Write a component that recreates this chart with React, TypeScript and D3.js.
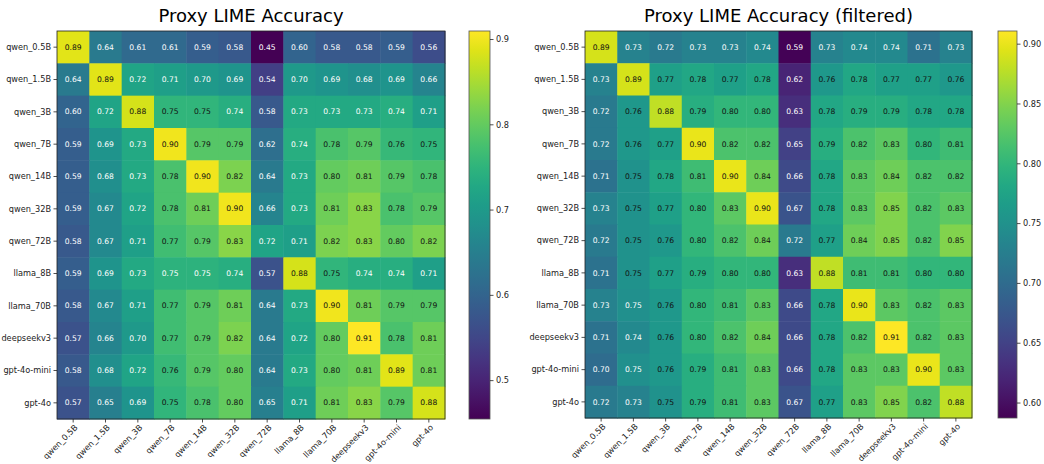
import * as d3 from "d3";

const models = [
  "qwen_0.5B", "qwen_1.5B", "qwen_3B", "qwen_7B", "qwen_14B", "qwen_32B",
  "qwen_72B", "llama_8B", "llama_70B", "deepseekv3", "gpt-4o-mini", "gpt-4o",
];

// rows = explained model, cols = proxy model
const accuracy = [
  [0.89, 0.64, 0.61, 0.61, 0.59, 0.58, 0.45, 0.60, 0.58, 0.58, 0.59, 0.56],
  [0.64, 0.89, 0.72, 0.71, 0.70, 0.69, 0.54, 0.70, 0.69, 0.68, 0.69, 0.66],
  [0.60, 0.72, 0.88, 0.752, 0.752, 0.74, 0.58, 0.73, 0.73, 0.73, 0.74, 0.71],
  [0.59, 0.69, 0.73, 0.90, 0.79, 0.79, 0.62, 0.74, 0.78, 0.79, 0.76, 0.752],
  [0.59, 0.68, 0.73, 0.78, 0.90, 0.82, 0.64, 0.73, 0.80, 0.81, 0.79, 0.78],
  [0.59, 0.67, 0.72, 0.78, 0.81, 0.90, 0.66, 0.73, 0.81, 0.83, 0.78, 0.79],
  [0.58, 0.67, 0.71, 0.77, 0.79, 0.83, 0.72, 0.71, 0.82, 0.83, 0.80, 0.82],
  [0.59, 0.69, 0.73, 0.748, 0.748, 0.74, 0.57, 0.88, 0.752, 0.74, 0.74, 0.71],
  [0.58, 0.67, 0.71, 0.77, 0.79, 0.81, 0.64, 0.73, 0.90, 0.81, 0.79, 0.79],
  [0.57, 0.66, 0.70, 0.77, 0.79, 0.82, 0.64, 0.72, 0.80, 0.91, 0.78, 0.81],
  [0.58, 0.68, 0.72, 0.76, 0.79, 0.80, 0.64, 0.73, 0.80, 0.81, 0.89, 0.81],
  [0.57, 0.65, 0.69, 0.752, 0.78, 0.80, 0.65, 0.71, 0.81, 0.83, 0.79, 0.88],
];

const accuracyFiltered = [
  [0.89, 0.73, 0.72, 0.73, 0.73, 0.74, 0.59, 0.73, 0.74, 0.74, 0.71, 0.73],
  [0.73, 0.89, 0.77, 0.78, 0.77, 0.78, 0.62, 0.76, 0.78, 0.77, 0.77, 0.76],
  [0.72, 0.76, 0.88, 0.79, 0.80, 0.80, 0.63, 0.78, 0.79, 0.79, 0.78, 0.78],
  [0.72, 0.76, 0.77, 0.90, 0.82, 0.82, 0.65, 0.79, 0.82, 0.83, 0.80, 0.81],
  [0.71, 0.752, 0.78, 0.81, 0.90, 0.84, 0.66, 0.78, 0.83, 0.84, 0.82, 0.82],
  [0.73, 0.752, 0.77, 0.80, 0.83, 0.90, 0.67, 0.78, 0.83, 0.85, 0.82, 0.83],
  [0.72, 0.752, 0.76, 0.80, 0.82, 0.84, 0.72, 0.77, 0.84, 0.85, 0.82, 0.85],
  [0.71, 0.752, 0.77, 0.79, 0.80, 0.80, 0.63, 0.88, 0.81, 0.81, 0.80, 0.80],
  [0.73, 0.748, 0.76, 0.80, 0.81, 0.83, 0.66, 0.78, 0.90, 0.83, 0.82, 0.83],
  [0.71, 0.74, 0.76, 0.80, 0.82, 0.84, 0.66, 0.78, 0.82, 0.91, 0.82, 0.83],
  [0.70, 0.748, 0.76, 0.79, 0.81, 0.83, 0.66, 0.78, 0.83, 0.83, 0.90, 0.83],
  [0.72, 0.73, 0.752, 0.79, 0.81, 0.83, 0.67, 0.77, 0.83, 0.85, 0.82, 0.88],
];

const leftDomain = [0.455, 0.91];
const rightDomain = [0.5875, 0.911];
const leftTicks = [0.5, 0.6, 0.7, 0.8, 0.9];
const rightTicks = [0.6, 0.65, 0.7, 0.75, 0.8, 0.85, 0.9];

const FONT = "DejaVu Sans, sans-serif";
const TICK_FS = 8.2;

type HeatProps = {
  title: string;
  data: number[][];
  domain: number[];
  ticks: number[];
  fmt: string;
  x0: number;
  size: number;
  cbX: number;
  cbW: number;
  id: string;
};

function Heatmap({ title, data, domain, ticks, fmt, x0, size, cbX, cbW, id }: HeatProps) {
  const y0 = 31;
  const x = d3.scaleBand<string>().domain(models).range([x0, x0 + size]);
  const y = d3.scaleBand<string>().domain(models).range([y0, y0 + size]);
  const color = d3.scaleSequential(d3.interpolateViridis).domain(domain as [number, number]);
  const cb = d3.scaleLinear().domain(domain).range([y0 + size, y0]);
  const f = d3.format(fmt);
  const stops = d3.range(0, 1.0001, 0.05);

  return (
    <g>
      <text x={x0 + size / 2} y={22} textAnchor="middle" fontSize={18} fontFamily={FONT}>
        {title}
      </text>
      {data.map((row, i) =>
        row.map((v, j) => (
          <g key={`${i}-${j}`}>
            <rect
              x={x(models[j])}
              y={y(models[i])}
              width={x.bandwidth() + 0.5}
              height={y.bandwidth() + 0.5}
              fill={color(v)}
            />
            <text
              x={x(models[j])! + x.bandwidth() / 2}
              y={y(models[i])! + y.bandwidth() / 2}
              dy="0.35em"
              textAnchor="middle"
              fontSize={7.6}
              fontFamily={FONT}
              fill={v >= 0.75 ? "#111" : "#fff"}
            >
              {v.toFixed(2)}
            </text>
          </g>
        ))
      )}
      <rect x={x0} y={y0} width={size} height={size} fill="none" stroke="#222" strokeWidth={0.8} />
      {models.map((m) => (
        <g key={"y" + m}>
          <line x1={x0 - 3.5} x2={x0} y1={y(m)! + y.bandwidth() / 2} y2={y(m)! + y.bandwidth() / 2} stroke="#222" strokeWidth={0.8} />
          <text x={x0 - 6} y={y(m)! + y.bandwidth() / 2} dy="0.35em" textAnchor="end" fontSize={TICK_FS} fontFamily={FONT} fill="#222">
            {m}
          </text>
        </g>
      ))}
      {models.map((m) => {
        const cx = x(m)! + x.bandwidth() / 2;
        const ty = y0 + size + 7;
        return (
          <g key={"x" + m}>
            <line x1={cx} x2={cx} y1={y0 + size} y2={y0 + size + 3.5} stroke="#222" strokeWidth={0.8} />
            <text
              transform={`translate(${cx + 3},${ty}) rotate(-45)`}
              dy="0.35em"
              textAnchor="end"
              fontSize={TICK_FS}
              fontFamily={FONT}
              fill="#222"
            >
              {m}
            </text>
          </g>
        );
      })}
      <defs>
        <linearGradient id={id} x1="0" y1="1" x2="0" y2="0">
          {stops.map((t) => (
            <stop key={t} offset={t} stopColor={d3.interpolateViridis(t)} />
          ))}
        </linearGradient>
      </defs>
      <rect x={cbX} y={y0} width={cbW} height={size} fill={`url(#${id})`} stroke="#555" strokeWidth={0.8} />
      {ticks.map((t) => (
        <g key={"c" + t}>
          <line x1={cbX + cbW} x2={cbX + cbW + 3.5} y1={cb(t)} y2={cb(t)} stroke="#222" strokeWidth={0.8} />
          <text x={cbX + cbW + 6} y={cb(t)} dy="0.35em" fontSize={TICK_FS} fontFamily={FONT} fill="#222">
            {f(t)}
          </text>
        </g>
      ))}
    </g>
  );
}

export default function App() {
  return (
    <svg width={1044} height={464} style={{ position: "absolute", left: 0, top: 0, background: "#fff" }}>
      <Heatmap
        title="Proxy LIME Accuracy"
        data={accuracy}
        domain={leftDomain}
        ticks={leftTicks}
        fmt=".1f"
        x0={57}
        size={388}
        cbX={469}
        cbW={21}
        id="cbLeft"
      />
      <Heatmap
        title="Proxy LIME Accuracy (filtered)"
        data={accuracyFiltered}
        domain={rightDomain}
        ticks={rightTicks}
        fmt=".2f"
        x0={585}
        size={387}
        cbX={998}
        cbW={19}
        id="cbRight"
      />
    </svg>
  );
}
